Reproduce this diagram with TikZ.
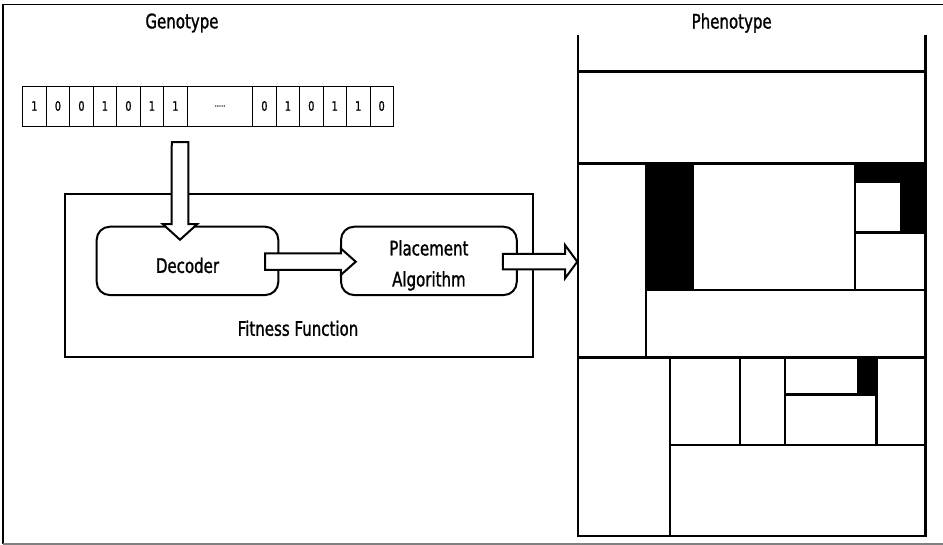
\documentclass[tikz,border=0pt]{standalone}
\usepackage{fontspec}
\setmainfont{DejaVu Sans}[FakeStretch=0.75, FakeBold=1.2]
\usetikzlibrary{calc, positioning}

% block arrow: from, to, shaft half width, head half width, head length
\newcommand{\blockarrow}[5]{%
  \draw[arrowline] let \p1=(#1), \p2=(#2), \n1={atan2(\y2-\y1,\x2-\x1)} in
    ($(\p1)+(\n1+90:#3pt)$) -- ($(\p2)+(\n1+180:#5pt)+(\n1+90:#3pt)$)
    -- ($(\p2)+(\n1+180:#5pt)+(\n1+90:#4pt)$) -- (\p2)
    -- ($(\p2)+(\n1+180:#5pt)+(\n1-90:#4pt)$)
    -- ($(\p2)+(\n1+180:#5pt)+(\n1-90:#3pt)$)
    -- ($(\p1)+(\n1-90:#3pt)$) -- cycle;}
\newcommand{\lowered}[1]{\raisebox{-4.5pt}[\height][\depth]{#1}}

\tikzset{
  headtext/.style={font=\fontsize{20}{24}\selectfont},
  bitcell/.style={draw, line width=0.8pt, minimum width=23.5pt, minimum height=40pt, inner sep=0pt, font=\fontsize{13}{13}\selectfont},
  process/.style={draw, line width=2pt, rounded corners=13pt, minimum height=68.3pt, align=center, font=\fontsize{20}{31}\selectfont},
  arrowline/.style={line width=2pt, fill=white, line join=miter},
  wall/.style={line width=2.6pt}
}

\begin{document}
\begin{tikzpicture}[x=1pt, y=-1pt]
  \useasboundingbox (0,0) rectangle (943,545);
  % frame
  \draw[line width=1.2pt] (943,4.5) -- (3,4.5) -- (3,544);
  \draw[gray, line width=1.2pt] (3,544) -- (943,544);

  \node[headtext] (genotype) at (182,23) {Genotype};
  \node[headtext] (phenotype) at (731.7,23) {Phenotype};

  % genotype string
  \foreach \v [count=\i] in {1,0,0,1,0,1,1}
    \node[bitcell] (b\i) at ({22.7+23.5*(\i-0.5)},106) {\v};
  \node[bitcell, minimum width=65.4pt, font=\fontsize{9}{9}\selectfont] (bdots) at (220,106) {.....};
  \foreach \v [count=\i] in {0,1,0,1,1,0}
    \node[bitcell, minimum width=23.45pt] (c\i) at ({252.7+23.45*(\i-0.5)},106) {\v};

  % fitness function
  \node[draw, line width=2pt, minimum width=467.7pt, minimum height=162.7pt] (fitness) at (298.9,275.7) {};
  \node[headtext] (fitlabel) at (298,328.3) {Fitness Function};
  \node[process, minimum width=181.6pt] (decoder) at (187.5,260.9) {\lowered{Decoder}};
  \node[process, minimum width=175.7pt] (placement) at (428.9,260.9) {\lowered{Placement}\\\lowered{Algorithm}};

  % phenotype layout
  \fill (646,163.3) rectangle (694.3,290);
  \fill (855,163.3) rectangle (925.7,232.7);
  \fill[white] (855,182.7) rectangle (900,232.7);
  \fill (856.7,357.3) rectangle (876.7,394.3);
  \draw[wall] (578,35) -- (578,536) -- (925.7,536) -- (925.7,35);
  \draw[wall] (578,71.7) -- (925.7,71.7);
  \draw[wall] (578,163.3) -- (925.7,163.3);
  \draw[wall] (646,163.3) -- (646,357.3);
  \draw[wall] (855,163.3) -- (855,290);
  \draw[wall] (855,232.7) -- (925.7,232.7);
  \draw[wall] (646,290) -- (925.7,290);
  \draw[wall] (578,357.3) -- (925.7,357.3);
  \draw[wall] (670,357.3) -- (670,536);
  \draw[wall] (740,357.3) -- (740,445);
  \draw[wall] (785,357.3) -- (785,445);
  \draw[wall] (785,394.3) -- (876.7,394.3);
  \draw[wall] (876.7,357.3) -- (876.7,445);
  \draw[wall] (670,445) -- (925.7,445);

  % connectors
  \coordinate (a1s) at ($(b7.south)+(4.6,15.7)$);
  \coordinate (a1e) at ($(decoder.north)+(-7.5,14)$);
  \coordinate (a2s) at ($(decoder.east)+(-14.3,0.8)$);
  \coordinate (a2e) at ($(placement.west)+(15.7,0.8)$);
  \coordinate (a3s) at ($(placement.east)+(-15,0.8)$);
  \coordinate (pheno) at (577.3,261.7);
  \blockarrow{a1s}{a1e}{8.3}{17.3}{15.7}
  \blockarrow{a2s}{a2e}{8.3}{13.3}{15}
  \blockarrow{a3s}{pheno}{7.7}{16.7}{12.3}
\end{tikzpicture}
\end{document}
